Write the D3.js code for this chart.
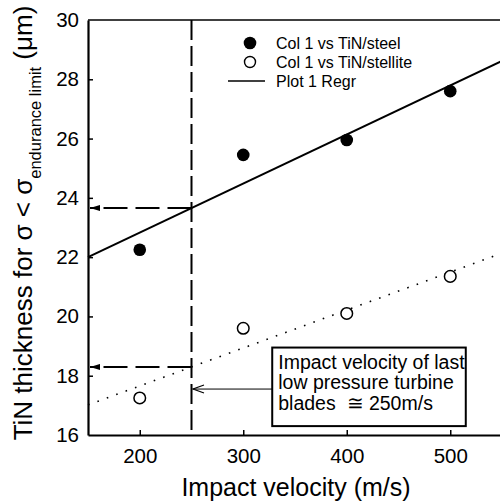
<!DOCTYPE html>
<html>
<head>
<meta charset="utf-8">
<script src="https://cdn.jsdelivr.net/npm/d3@7"></script>
<style>
  body { margin: 0; background: #fff; }
  svg { display: block; font-family: "Liberation Sans", Arial, sans-serif; }
</style>
</head>
<body>
<div id="chart"></div>
<script>
// Data
const velocities = [200, 300, 400, 500];
const steelThickness = [22.25, 25.45, 25.95, 27.6];
const stelliteThickness = [17.25, 19.6, 20.1, 21.35];
const xTicks = [200, 300, 400, 500];
const yTicks = [16, 18, 20, 22, 24, 26, 28, 30];
const bladeVelocity = 250;
const legendLabels = ['Col 1 vs TiN/steel', 'Col 1 vs TiN/stellite', 'Plot 1 Regr'];
const noteLines = ['Impact velocity of last', 'low pressure turbine', 'blades\u00a0\u00a0\u2245 250m/s'];

const width = 500, height = 503;
const margin = { top: 20, right: -2, bottom: 68, left: 88 };

const svg = d3.select('#chart').append('svg')
    .attr('width', width)
    .attr('height', height);

const x = d3.scaleLinear().domain([150, 550]).range([margin.left, width - margin.right]);
const y = d3.scaleLinear().domain([16, 30]).range([height - margin.bottom, margin.top]);

// least squares fit
function linFit(xs, ys) {
    const mx = d3.mean(xs), my = d3.mean(ys);
    let num = 0, den = 0;
    xs.forEach((v, i) => { num += (v - mx) * (ys[i] - my); den += (v - mx) * (v - mx); });
    const slope = num / den;
    return v => my + slope * (v - mx);
}
const steelFit = linFit(velocities, steelThickness);
const stelliteFit = linFit(velocities, stelliteThickness);

// arrow marker
const defs = svg.append('defs');
defs.append('marker')
    .attr('id', 'arrowFill')
    .attr('viewBox', '0 0 10 6')
    .attr('refX', 10).attr('refY', 3)
    .attr('markerWidth', 10).attr('markerHeight', 6)
    .attr('markerUnits', 'userSpaceOnUse')
    .attr('orient', 'auto')
    .append('path').attr('d', 'M0,0L10,3L0,6Z').attr('fill', '#000');

const xDomain = x.domain();

// regression lines
const line = d3.line().x(d => x(d[0])).y(d => y(d[1]));
svg.append('path')
    .datum(xDomain.map(v => [v, steelFit(v)]))
    .attr('d', line)
    .attr('fill', 'none').attr('stroke', '#000').attr('stroke-width', 2);
svg.append('path')
    .datum(xDomain.map(v => [v, stelliteFit(v)]))
    .attr('d', line)
    .attr('fill', 'none').attr('stroke', '#000').attr('stroke-width', 1.6)
    .attr('stroke-dasharray', '1.6,8.4');

// vertical dashed line at blade velocity
svg.append('line')
    .attr('x1', x(bladeVelocity)).attr('x2', x(bladeVelocity))
    .attr('y1', y(30)).attr('y2', y(16))
    .attr('stroke', '#000').attr('stroke-width', 2)
    .attr('stroke-dasharray', '20,6');

// horizontal dashed arrows to y axis
[steelFit, stelliteFit].forEach(f => {
    svg.append('line')
        .attr('x1', x(bladeVelocity)).attr('x2', x(150) + 2)
        .attr('y1', y(f(bladeVelocity))).attr('y2', y(f(bladeVelocity)))
        .attr('stroke', '#000').attr('stroke-width', 2)
        .attr('stroke-dasharray', '24,8')
        .attr('marker-end', 'url(#arrowFill)');
});

// points
svg.append('g').selectAll('circle')
    .data(velocities.map((v, i) => [v, steelThickness[i]]))
    .join('circle')
    .attr('cx', d => x(d[0])).attr('cy', d => y(d[1]))
    .attr('r', 6.3).attr('fill', '#000');
svg.append('g').selectAll('circle')
    .data(velocities.map((v, i) => [v, stelliteThickness[i]]))
    .join('circle')
    .attr('cx', d => x(d[0])).attr('cy', d => y(d[1]))
    .attr('r', 5.8).attr('fill', '#fff').attr('stroke', '#000').attr('stroke-width', 1.5);

// axes
const xAxis = svg.append('g')
    .attr('transform', `translate(0,${y(16)})`)
    .call(d3.axisBottom(x).tickValues(xTicks).tickSizeInner(-5).tickSizeOuter(0).tickPadding(13));
const yAxis = svg.append('g')
    .attr('transform', `translate(${x(150)},0)`)
    .call(d3.axisLeft(y).tickValues(yTicks).tickSizeInner(-5).tickSizeOuter(0).tickPadding(9));
[xAxis, yAxis].forEach(g => {
    g.select('.domain').attr('stroke-width', 2.2);
    g.selectAll('.tick line').attr('stroke-width', 1.5);
    g.selectAll('.tick text').attr('font-size', 20.5).attr('fill', '#000')
        .attr('font-family', '"Liberation Sans", Arial, sans-serif');
});
yAxis.selectAll('.tick').filter(d => d === 16 || d === 30).select('line').remove();

// top frame
svg.append('line')
    .attr('x1', x(150)).attr('x2', width)
    .attr('y1', y(30)).attr('y2', y(30))
    .attr('stroke', '#000').attr('stroke-width', 1.6);

// annotation box
const box = { x0: 328, x1: 515, y0: 18.95, y1: 16.3 };
svg.append('rect')
    .attr('x', x(box.x0)).attr('y', y(box.y0))
    .attr('width', x(box.x1) - x(box.x0)).attr('height', y(box.y1) - y(box.y0))
    .attr('fill', '#fff').attr('stroke', '#000').attr('stroke-width', 2);
svg.append('g').selectAll('text')
    .data(noteLines)
    .join('text')
    .attr('x', x(box.x0) + 6)
    .attr('y', (d, i) => y(box.y0) + 21 + i * 20.5)
    .attr('font-size', 19.5)
    .text(d => d);

// note arrow
const arrowY = y(17.55);
const tipX = x(bladeVelocity) + 1.5;
svg.append('line')
    .attr('x1', x(box.x0)).attr('x2', tipX)
    .attr('y1', arrowY).attr('y2', arrowY)
    .attr('stroke', '#000').attr('stroke-width', 1);
svg.append('path')
    .attr('d', `M${tipX + 11},${arrowY - 4}L${tipX},${arrowY}L${tipX + 11},${arrowY + 4}`)
    .attr('fill', 'none').attr('stroke', '#000').attr('stroke-width', 1.2);

// legend
const legend = svg.append('g').attr('transform', 'translate(250,43)');
legend.append('circle').attr('cx', 0).attr('cy', 0).attr('r', 6.3).attr('fill', '#000');
legend.append('circle').attr('cx', 0).attr('cy', 19).attr('r', 5.5)
    .attr('fill', '#fff').attr('stroke', '#000').attr('stroke-width', 1.4);
legend.append('line').attr('x1', -22).attr('x2', 15).attr('y1', 38).attr('y2', 38)
    .attr('stroke', '#000').attr('stroke-width', 1.4);
legend.selectAll('text')
    .data(legendLabels)
    .join('text')
    .attr('x', 26).attr('y', (d, i) => i * 19 + 5.5)
    .attr('font-size', 16)
    .text(d => d);

// axis titles
svg.append('text')
    .attr('x', 296).attr('y', 496)
    .attr('text-anchor', 'middle')
    .attr('font-size', 25)
    .text('Impact velocity (m/s)');

const yTitle = svg.append('text')
    .attr('transform', 'translate(32,223) rotate(-90)')
    .attr('text-anchor', 'middle')
    .attr('font-size', 26);
yTitle.append('tspan').text('TiN thickness for \u03c3 < \u03c3');
yTitle.append('tspan').attr('font-size', 16.5).attr('dy', 9).text('endurance limit');
yTitle.append('tspan').attr('dy', -9).text(' (\u03bcm)');
</script>
</body>
</html>
